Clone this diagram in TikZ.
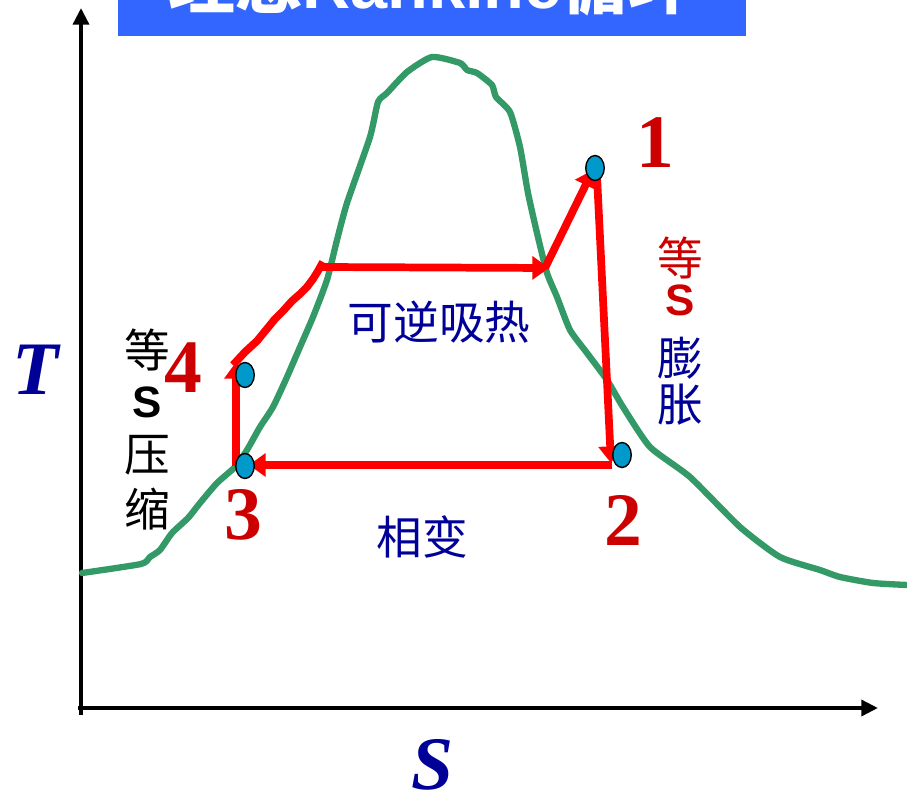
\documentclass[tikz,border=0pt]{standalone}
\usepackage{fontspec}
\setmainfont{Liberation Serif}
\setsansfont{Liberation Sans}
\newfontfamily\cjk{Noto Sans CJK SC}
\usetikzlibrary{arrows.meta,shapes.geometric}
\definecolor{banner}{HTML}{3366FF}
\definecolor{curvegreen}{HTML}{339966}
\definecolor{cyclered}{HTML}{FF0000}
\definecolor{numred}{HTML}{CC0000}
\definecolor{labelblue}{HTML}{000099}
\definecolor{dotblue}{HTML}{0099CC}

\begin{document}
\begin{tikzpicture}[x=0.02cm,y=-0.02cm,
    axis/.style={line width=2.3pt,-{Triangle[length=9.5pt,width=9pt]}},
    cyc/.style={cyclered,line width=4.4pt,line join=round},
    cycarrow/.style={cyc,-{Triangle[length=9.5pt,width=13pt]}},
    dot/.style={ellipse,draw=black,fill=dotblue,line width=0.8pt,inner sep=0pt,
                minimum width=0.37cm,minimum height=0.5cm},
    num/.style={text=numred,inner sep=0pt,font=\fontsize{43}{43}\selectfont\bfseries},
    axlabel/.style={text=labelblue,inner sep=0pt,font=\fontsize{43}{43}\selectfont\bfseries\itshape},
    cn/.style={inner sep=0pt,font=\cjk\fontsize{26}{26}\selectfont},
    sbig/.style={inner sep=0pt,font=\sffamily\bfseries\fontsize{25}{25}\selectfont}]
    \useasboundingbox (0,0) rectangle (907,794);
    \clip (0,0) rectangle (907,794);

    % title bar, cut by the top edge
    \fill[banner] (118,-10) rectangle (746,36);
    \node[anchor=base,text=white,inner sep=0pt] (title) at (432,9)
      {\fontsize{38}{38}\selectfont\bfseries{\cjk 理想}\sffamily Rankine{\cjk 循环}};

    % axes
    \coordinate (o) at (81,715);
    \coordinate (ytip) at (81,8);
    \coordinate (xo) at (78,708);
    \coordinate (xtip) at (878,708);
    \draw[axis] (o) -- (ytip);
    \draw[axis] (xo) -- (xtip);
    \node[axlabel] (tlabel) at (36,370) {T};
    \node[axlabel] (slabel) at (433,765) {S};

    % saturation curve
    \draw[curvegreen,line width=3.6pt,line join=round,line cap=round]
      plot[smooth,tension=0.35] coordinates {(82,573) (141,564) (150,557) (160,550)
        (172,533) (188,518) (200,503) (217,483) (235,467) (247,450) (260,427)
        (273,407) (287,377) (300,347) (313,317) (327,280) (337,240) (347,203)
        (370,137) (378,102) (387,93) (407,72) (432,57) (460,63) (467,70)
        (477,73) (492,85) (496,97) (510,112) (520,147) (528,193) (537,233)
        (547,273) (557,297) (570,330) (587,353) (607,380) (623,407) (650,447)
        (690,477) (740,527) (780,557) (820,570) (840,577) (873,583) (907,585)};

    % cycle corners
    \coordinate (c3) at (236,466);
    \coordinate (c4) at (236,362);
    \coordinate (c5) at (322,267);
    \coordinate (c6) at (549,268);
    \coordinate (c1) at (593,170);
    \coordinate (c1b) at (597,176);
    \coordinate (c2) at (611,463);
    \coordinate (c2b) at (612,465);
    \coordinate (c3b) at (249,465);

    \draw[cycarrow] (c3) -- (c4);
    \draw[cyc] (233,365) -- (245,352) -- (257,341) -- (266,330) -- (275,319)
      -- (283,311) -- (292,301) -- (300,294) -- (307,287) -- (313,279)
      -- (318,271) -- (323,262);
    \draw[cycarrow] (c5) -- (c6);
    \draw[cycarrow] (545,268) -- (c1);
    \draw[cycarrow] (c1b) -- (c2);
    \draw[cycarrow] (c2b) -- (c3b);

    % state points
    \node[dot] (p1) at (595,168) {};
    \node[dot] (p2) at (622,455) {};
    \node[dot] (p3) at (245,466) {};
    \node[dot] (p4) at (245,375) {};

    \node[num] (n1) at (655,143) {1};
    \node[num] (n2) at (623,520) {2};
    \node[num] (n3) at (243,515) {3};
    \node[num] (n4) at (183,368) {4};

    % process labels
    \node[cn,text=labelblue] (heat) at (439,322) {可逆吸热};
    \node[cn,text=labelblue] (phase) at (422,537) {相变};

    \node[cn] (pa) at (147,350) {等};
    \node[sbig] (pb) at (147,402) {S};
    \node[cn] (pc) at (147,455) {压};
    \node[cn] (pd) at (147,509) {缩};

    \node[cn,text=numred] (ea) at (680,258) {等};
    \node[sbig,text=numred] (eb) at (680,300) {S};
    \node[cn,text=labelblue] (ec) at (680,358) {膨};
    \node[cn,text=labelblue] (ed) at (680,405) {胀};
  \end{tikzpicture}
\end{document}
